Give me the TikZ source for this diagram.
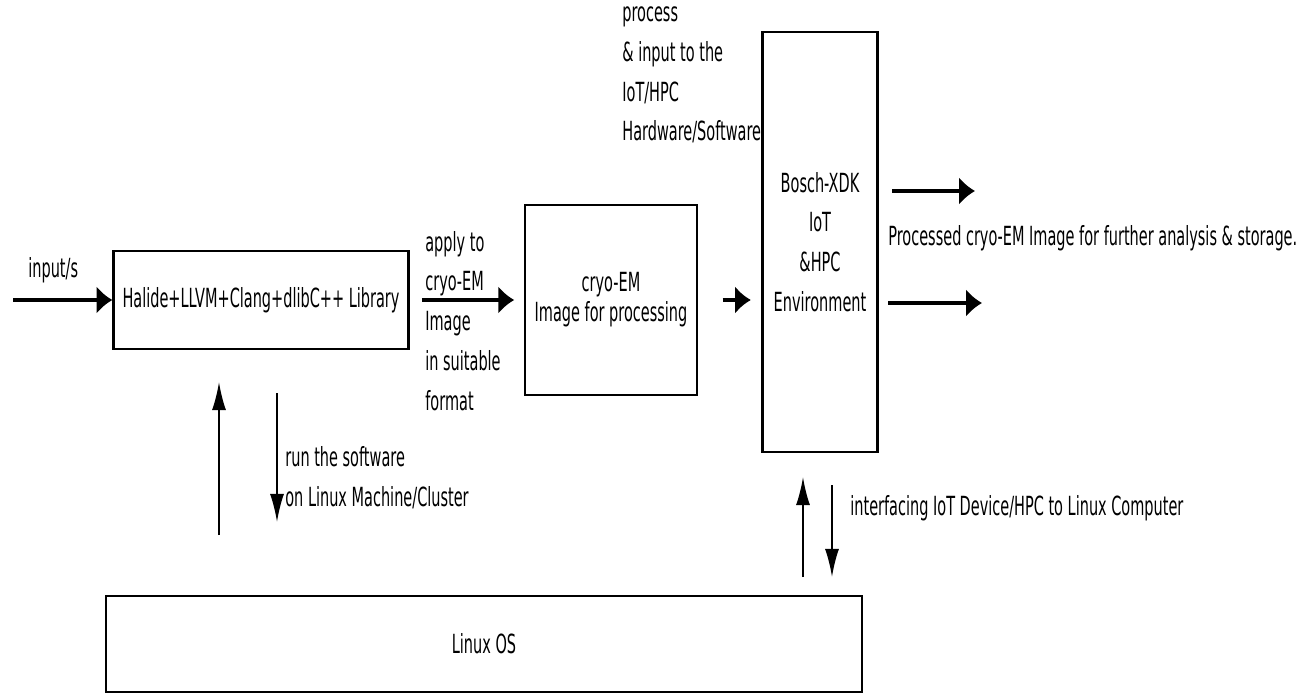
\documentclass[tikz,border=0pt]{standalone}
\usepackage{fontspec}
\setmainfont{DejaVu Sans}[FakeStretch=0.55]
\usetikzlibrary{arrows.meta}

\begin{document}
\begin{tikzpicture}[x=0.02cm,y=-0.02cm]
			\tikzstyle{box} = [draw, line width=1.3pt, inner sep=0pt, align=center, font=\fontsize{15}{22.7}\selectfont]
			\tikzstyle{note} = [inner sep=0pt, anchor=west, align=left, font=\fontsize{15}{22.7}\selectfont]
			\tikzset{edge/.style = {line width=2.2pt, -{Latex[length=9pt,width=16pt]}}}
			\tikzset{vedge/.style = {line width=1.1pt, -{Latex[length=16pt,width=8pt]}}}
			\useasboundingbox (0,0) rectangle (1296,696);
			
			\node[box, minimum width=5.9cm, minimum height=1.96cm](lib) at (261,300) {Halide+LLVM+Clang+dlibC++ Library};
			\node[box, minimum width=3.44cm, minimum height=3.8cm, font=\fontsize{15}{17}\selectfont](cryo) at (611,300) {cryo-EM\\Image for processing};
			\node[box, minimum width=2.3cm, minimum height=8.4cm](bosch) at (820,242) {Bosch-XDK\\IoT\\\&HPC\\Environment};
			\node[box, minimum width=15.12cm, minimum height=1.92cm](linux) at (484,644) {Linux OS};
			
			\coordinate (in0) at (13,300);
			\node[note](input) at (28,270) {input/s};
			\draw[edge](in0) to (lib);
			
			\node[note](apply) at (425,321) {apply to\\cryo-EM\\Image\\in suitable\\format};
			\draw[edge, shorten <=7pt, shorten >=5.5pt](lib) to (cryo);
			\draw[edge, shorten <=14pt, shorten >=6pt](cryo.east) to (cryo.east -| bosch.west);
			
			\node[note](process) at (622,75) {process\\\& input to the\\IoT/HPC\\Hardware/Software};
			
			\coordinate (out1a) at (892,191);
			\coordinate (out1b) at (975,191);
			\coordinate (out2a) at (888,303);
			\coordinate (out2b) at (982,303);
			\draw[edge](out1a) to (out1b);
			\draw[edge](out2a) to (out2b);
			\node[note](result) at (888,238) {Processed cryo-EM Image for further analysis \& storage.};
			
			\coordinate (up1a) at (219,535);
			\coordinate (up1b) at (219,382);
			\coordinate (dn1a) at (277,393);
			\coordinate (dn1b) at (277,522);
			\draw[vedge](up1a) to (up1b);
			\draw[vedge](dn1a) to (dn1b);
			\node[note](run) at (285,478) {run the software\\on Linux Machine/Cluster};
			
			\coordinate (up2a) at (803,577);
			\coordinate (up2b) at (803,477);
			\coordinate (dn2a) at (832,485);
			\coordinate (dn2b) at (832,577);
			\draw[vedge](up2a) to (up2b);
			\draw[vedge](dn2a) to (dn2b);
			\node[note](iface) at (850,508) {interfacing IoT Device/HPC to Linux Computer};
			
			\end{tikzpicture}
\end{document}
